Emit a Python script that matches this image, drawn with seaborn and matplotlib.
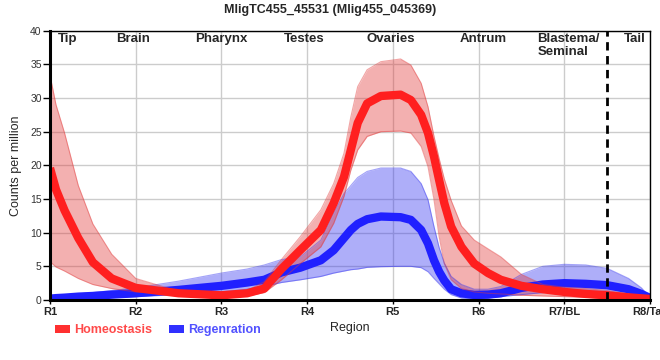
import matplotlib
matplotlib.use("Agg")
import matplotlib.pyplot as plt
import seaborn as sns
from matplotlib.patches import Patch

sns.set_style("white")
plt.rcParams['font.family'] = ['Liberation Sans', 'DejaVu Sans']

title = "MligTC455_45531 (Mlig455_045369)"
tick_labels = ["R1", "R2", "R3", "R4", "R5", "R6", "R7/BL", "R8/Tail"]
region_names = ["Tip", "Brain", "Pharynx", "Testes", "Ovaries", "Antrum", "Blastema/\nSeminal", "Tail"]
region_pos = [0.2, 0.97, 2.0, 2.97, 3.97, 5.06, 6.05, 6.82]

xs = [0, 0.07, 0.17, 0.33, 0.5, 0.72, 1.0, 1.5, 2.0, 2.3, 2.5,
      2.7, 2.92, 3.16, 3.31, 3.43, 3.51, 3.59, 3.70, 3.86, 4.09,
      4.21, 4.33, 4.41, 4.48, 4.54, 4.60, 4.68, 4.80, 4.95, 5.11,
      5.26, 5.5, 5.75, 6.0, 6.25, 6.5, 6.75, 6.9, 7.0]

homeo_mean = [19.6, 16.4, 13.3, 9.2, 5.6, 3.2, 1.8, 1.0, 0.7, 1.0, 1.7,
              4.6, 7.4, 10.4, 14.4, 18.3, 22.3, 26.3, 29.2, 30.3, 30.5,
              29.7, 27.5, 24.8, 21.3, 17.8, 14.4, 10.9, 7.9, 5.4, 4.0,
              3.0, 2.1, 1.6, 1.2, 0.9, 0.7, 0.4, 0.25, 0.15]
homeo_upper = [33.4, 29.0, 24.8, 17.0, 11.3, 6.8, 3.2, 1.3, 0.9, 1.4, 2.7,
               6.0, 9.4, 13.4, 17.3, 21.8, 27.2, 31.7, 34.2, 35.4, 35.8,
               34.9, 32.2, 28.7, 24.3, 21.0, 18.0, 14.8, 11.0, 8.9, 7.6,
               6.4, 3.8, 2.3, 1.9, 1.7, 1.4, 0.9, 0.5, 0.3]
homeo_lower = [5.7, 4.9, 4.3, 3.2, 2.3, 1.7, 1.2, 0.8, 0.5, 0.6, 1.1,
               3.0, 5.4, 7.9, 11.4, 15.4, 19.3, 22.3, 24.3, 25.0, 25.1,
               24.8, 22.8, 19.8, 14.9, 9.4, 5.4, 3.0, 1.7, 1.2, 1.0,
               0.9, 0.7, 0.6, 0.5, 0.4, 0.2, 0.0, -0.1, -0.2]

regen_mean = [0.2, 0.28, 0.35, 0.5, 0.6, 0.8, 1.0, 1.5, 2.1, 2.6, 3.0,
              4.1, 4.8, 5.9, 7.4, 9.2, 10.4, 11.3, 12.0, 12.4, 12.3,
              11.9, 10.4, 8.4, 5.9, 4.2, 2.9, 1.6, 1.0, 0.75, 0.8,
              1.0, 1.8, 2.3, 2.5, 2.4, 2.2, 1.6, 0.9, 0.3]
regen_upper = [0.5, 0.6, 0.7, 0.9, 1.1, 1.4, 1.8, 2.8, 4.0, 4.6, 5.2,
               6.0, 6.4, 8.9, 12.9, 15.8, 17.0, 18.2, 19.1, 19.6, 19.6,
               19.1, 17.3, 14.9, 10.9, 7.8, 5.5, 3.5, 2.3, 1.6, 1.6,
               2.0, 3.8, 5.0, 5.3, 5.2, 4.7, 3.2, 1.8, 0.4]
regen_lower = [-0.3, -0.2, -0.1, 0.1, 0.2, 0.35, 0.5, 0.8, 1.2, 1.6, 2.0,
               2.6, 3.0, 3.5, 4.0, 4.3, 4.5, 4.6, 4.85, 4.95, 5.0,
               5.0, 4.8, 4.2, 3.2, 2.4, 1.6, 0.8, 0.3, 0.2, 0.3,
               0.5, 0.8, 1.1, 1.4, 1.3, 1.2, 0.6, 0.3, 0.1]

red_line = "#ff1f1f"
red_fill = "#e23a3a"
blue_line = "#2020ff"
blue_fill = "#3535f0"

fig = plt.figure(figsize=(6.6, 3.6), dpi=100)
ax = fig.add_axes([50/660, 1 - 300/360, 600/660, (300 - 30.7)/360])

ax.set_axisbelow(True)
ax.grid(True, color="#cccccc", linewidth=1.0)

# Regeneration
ax.fill_between(xs, regen_lower, regen_upper, color=blue_fill, alpha=0.4, linewidth=0)
ax.plot(xs, regen_upper, color=blue_fill, alpha=0.45, linewidth=0.8)
ax.plot(xs, regen_lower, color=blue_fill, alpha=0.45, linewidth=0.8)
sns.lineplot(x=xs, y=regen_mean, ax=ax, color=blue_line, linewidth=6,
             solid_capstyle="butt", solid_joinstyle="round", sort=False)

# Homeostasis
ax.fill_between(xs, homeo_lower, homeo_upper, color=red_fill, alpha=0.4, linewidth=0)
ax.plot(xs, homeo_upper, color=red_fill, alpha=0.45, linewidth=0.8)
ax.plot(xs, homeo_lower, color=red_fill, alpha=0.45, linewidth=0.8)
sns.lineplot(x=xs, y=homeo_mean, ax=ax, color=red_line, linewidth=6,
             solid_capstyle="butt", solid_joinstyle="round", sort=False)

# dashed separator between blastema and tail
ax.axvline(6.5, color="black", linewidth=2, linestyle=(0, (3, 2)))

ax.set_xlim(0, 7)
ax.set_ylim(0, 40)
ax.set_xticks(range(8))
ax.set_xticklabels(tick_labels, fontsize=8, fontweight="bold")
ax.set_yticks(range(0, 41, 5))
ax.set_yticklabels([str(v) for v in range(0, 41, 5)], fontsize=7.5, color="#333333")
ax.tick_params(axis="x", length=3, width=1, pad=2, color="black", bottom=True)
ax.tick_params(axis="y", length=5, width=1, pad=1, color="black", left=True)

for s in ["left", "bottom"]:
    ax.spines[s].set_linewidth(2.2)
    ax.spines[s].set_color("black")
for s in ["top", "right"]:
    ax.spines[s].set_linewidth(1.0)
    ax.spines[s].set_color("black")

ax.set_xlabel("Region", fontsize=9, labelpad=4)
ax.set_ylabel("Counts per million", fontsize=9, labelpad=6)

for name, pos in zip(region_names, region_pos):
    ax.text(pos, 39.6, name, ha="center", va="top", fontsize=9.5, fontweight="bold",
            linespacing=1.05, multialignment="left")

fig.text(0.5, 1 - 10/360, title, ha="center", va="center", fontsize=9, fontweight="bold")

handles = [Patch(facecolor="#ff3030", edgecolor="none"), Patch(facecolor="#3030ff", edgecolor="none")]
leg = fig.legend(handles, ["Homeostasis", "Regenration"], loc="center left",
                 bbox_to_anchor=(55/660, 1 - 330/360), ncol=2, frameon=False,
                 prop={"size": 9, "weight": "bold"}, handlelength=1.2, handleheight=0.6,
                 handletextpad=0.32, columnspacing=1.36, borderpad=0, borderaxespad=0)
leg.get_texts()[0].set_color("#ff4a4a")
leg.get_texts()[1].set_color("#5252ff")

fig.savefig("out.png", dpi=100)
